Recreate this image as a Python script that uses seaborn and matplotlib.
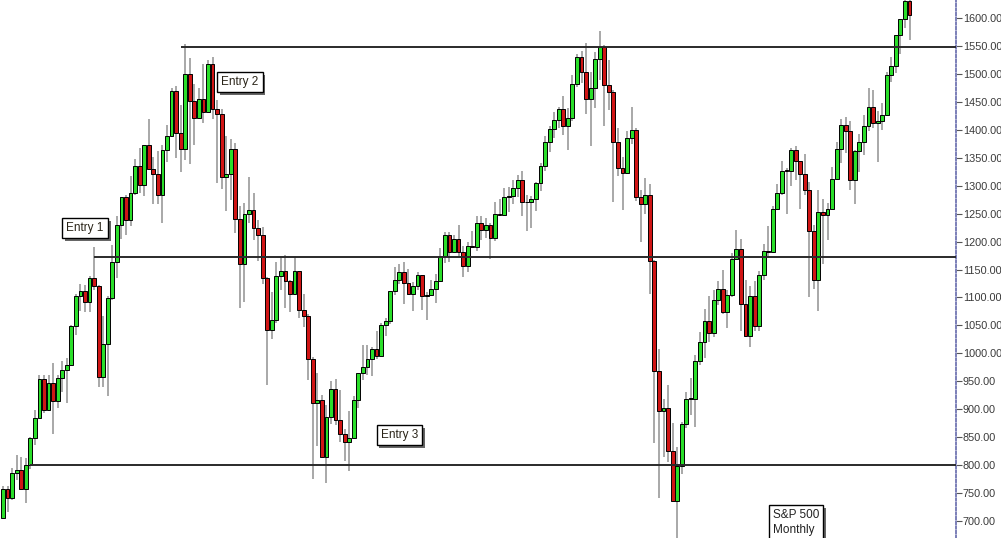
import numpy as np
import pandas as pd
import matplotlib
matplotlib.use("Agg")
import matplotlib.pyplot as plt
import matplotlib.patheffects as pe
import seaborn as sns

# ---------------- data: S&P 500 monthly candles, Nov 1996 .. Jun 2013 ----------------
months = pd.date_range("1996-11-01", periods=200, freq="MS")

opens = [
    705, 757,
    741, 786, 791, 757, 801, 848, 885, 954, 899, 947, 915, 955,
    970, 980, 1049, 1102, 1112, 1091, 1134, 1121, 957, 1017, 1099, 1164,
    1229, 1280, 1238, 1286, 1335, 1302, 1373, 1329, 1320, 1283, 1363, 1389,
    1469, 1394, 1366, 1499, 1452, 1421, 1455, 1431, 1518, 1437, 1429, 1315,
    1320, 1366, 1240, 1160, 1249, 1256, 1224, 1211, 1134, 1041, 1060, 1139,
    1148, 1130, 1107, 1147, 1077, 1067, 990, 912, 916, 815, 886, 936,
    880, 856, 841, 848, 917, 964, 975, 990, 1008, 996, 1051, 1058,
    1112, 1131, 1145, 1126, 1107, 1121, 1141, 1102, 1104, 1115, 1130, 1174,
    1212, 1181, 1204, 1181, 1157, 1192, 1191, 1234, 1220, 1229, 1207, 1249,
    1248, 1280, 1281, 1295, 1311, 1270, 1270, 1277, 1304, 1336, 1378, 1401,
    1418, 1438, 1407, 1421, 1482, 1531, 1503, 1455, 1474, 1527, 1549, 1481,
    1468, 1379, 1331, 1323, 1386, 1400, 1280, 1267, 1283, 1166, 969, 896,
    903, 826, 735, 798, 873, 919, 919, 987, 1021, 1057, 1036, 1096,
    1115, 1074, 1104, 1169, 1187, 1089, 1031, 1102, 1049, 1141, 1183, 1181,
    1258, 1286, 1327, 1326, 1364, 1345, 1321, 1292, 1219, 1131, 1253, 1247,
    1258, 1312, 1366, 1408, 1398, 1310, 1362, 1379, 1407, 1441, 1412, 1416,
    1426, 1498, 1515, 1569, 1598, 1631,
]
highs = [
    762, 762,
    794, 818, 815, 812, 851, 899, 961, 961, 961, 983, 961, 986,
    992, 1051, 1106, 1124, 1122, 1139, 1191, 1122, 1066, 1103, 1193, 1245,
    1280, 1284, 1317, 1347, 1368, 1373, 1420, 1352, 1362, 1373, 1408, 1474,
    1479, 1445, 1553, 1528, 1482, 1475, 1517, 1525, 1531, 1454, 1438, 1389,
    1384, 1377, 1264, 1269, 1316, 1286, 1239, 1226, 1136, 1110, 1164, 1173,
    1176, 1131, 1173, 1147, 1106, 1070, 994, 965, 925, 907, 951, 954,
    935, 865, 896, 924, 965, 1015, 1015, 1012, 1040, 1054, 1063, 1112,
    1155, 1159, 1163, 1151, 1128, 1146, 1141, 1109, 1131, 1142, 1188, 1217,
    1217, 1212, 1229, 1192, 1199, 1219, 1245, 1245, 1243, 1233, 1270, 1276,
    1295, 1297, 1311, 1319, 1326, 1284, 1281, 1307, 1340, 1389, 1407, 1432,
    1441, 1461, 1439, 1498, 1535, 1541, 1556, 1503, 1539, 1576, 1552, 1524,
    1472, 1404, 1352, 1397, 1440, 1404, 1292, 1313, 1303, 1167, 1007, 918,
    944, 876, 833, 878, 930, 956, 997, 1039, 1080, 1102, 1113, 1130,
    1150, 1113, 1180, 1220, 1205, 1132, 1120, 1130, 1148, 1196, 1228, 1263,
    1303, 1344, 1332, 1367, 1371, 1345, 1357, 1307, 1230, 1293, 1277, 1269,
    1333, 1378, 1419, 1422, 1415, 1363, 1392, 1427, 1475, 1471, 1434, 1448,
    1504, 1530, 1570, 1598, 1687, 1654,
]
lows = [
    703, 716,
    737, 773, 756, 733, 793, 836, 884, 893, 898, 855, 903, 931,
    912, 979, 1032, 1076, 1074, 1074, 1114, 940, 939, 923, 1095, 1134,
    1205, 1212, 1228, 1283, 1287, 1281, 1328, 1268, 1268, 1233, 1343, 1387,
    1350, 1325, 1346, 1339, 1373, 1421, 1413, 1431, 1420, 1305, 1294, 1254,
    1275, 1215, 1081, 1091, 1233, 1203, 1165, 1124, 944, 1026, 1054, 1114,
    1081, 1074, 1104, 1063, 1048, 953, 776, 834, 815, 768, 873, 872,
    841, 807, 789, 847, 902, 952, 962, 960, 990, 996, 1031, 1053,
    1105, 1124, 1088, 1105, 1076, 1114, 1078, 1060, 1102, 1090, 1128, 1162,
    1163, 1180, 1173, 1137, 1146, 1188, 1184, 1202, 1206, 1169, 1201, 1245,
    1245, 1253, 1268, 1280, 1245, 1219, 1224, 1254, 1290, 1327, 1360, 1386,
    1403, 1390, 1364, 1416, 1476, 1484, 1428, 1371, 1439, 1489, 1406, 1435,
    1271, 1317, 1257, 1320, 1374, 1272, 1200, 1249, 1107, 840, 741, 815,
    805, 735, 667, 784, 867, 889, 869, 979, 992, 1020, 1029, 1086,
    1071, 1045, 1101, 1171, 1040, 1029, 1011, 1040, 1040, 1132, 1173, 1180,
    1257, 1284, 1249, 1299, 1311, 1258, 1283, 1101, 1115, 1075, 1159, 1202,
    1258, 1312, 1341, 1358, 1292, 1267, 1325, 1354, 1397, 1403, 1343, 1399,
    1426, 1485, 1502, 1536, 1582, 1560,
]
closes = [
    757, 741,
    786, 791, 757, 801, 848, 885, 954, 899, 947, 915, 955, 970,
    980, 1049, 1102, 1112, 1091, 1134, 1121, 957, 1017, 1099, 1164, 1229,
    1280, 1238, 1286, 1335, 1302, 1373, 1329, 1320, 1283, 1363, 1389, 1469,
    1394, 1366, 1499, 1452, 1421, 1455, 1431, 1518, 1437, 1429, 1315, 1320,
    1366, 1240, 1160, 1249, 1256, 1224, 1211, 1134, 1041, 1060, 1139, 1148,
    1130, 1107, 1147, 1077, 1067, 990, 912, 916, 815, 886, 936, 880,
    856, 841, 848, 917, 964, 975, 990, 1008, 996, 1051, 1058, 1112,
    1131, 1145, 1126, 1107, 1121, 1141, 1102, 1104, 1115, 1130, 1174, 1212,
    1181, 1204, 1181, 1157, 1192, 1191, 1234, 1220, 1229, 1207, 1249, 1248,
    1280, 1281, 1295, 1311, 1270, 1270, 1277, 1304, 1336, 1378, 1401, 1418,
    1438, 1407, 1421, 1482, 1531, 1503, 1455, 1474, 1527, 1549, 1481, 1468,
    1379, 1331, 1323, 1386, 1400, 1280, 1267, 1283, 1166, 969, 896, 903,
    826, 735, 798, 873, 919, 919, 987, 1021, 1057, 1036, 1096, 1115,
    1074, 1104, 1169, 1187, 1089, 1031, 1102, 1049, 1141, 1183, 1181, 1258,
    1286, 1327, 1326, 1364, 1345, 1321, 1292, 1219, 1131, 1253, 1247, 1258,
    1312, 1366, 1408, 1398, 1310, 1362, 1379, 1407, 1441, 1412, 1416, 1426,
    1498, 1515, 1569, 1598, 1631, 1606,
]

# horizontal support / resistance levels and the month each one starts from
level_values = [1548, 1172, 801]
level_starts = ["2000-02", "1998-07", "1997-05"]

entry_labels = ["Entry 1", "Entry 2", "Entry 3"]
entry_months = ["1998-05", "2001-03", "2004-02"]
entry_prices = [1224, 1485, 854]

chart_label = "S&P 500\nMonthly"
y_ticks = list(range(700, 1601, 50))

# ---------------- figure ----------------
sns.set_theme(style="white")
plt.rcParams["font.family"] = ["Liberation Sans", "DejaVu Sans"]

df = pd.DataFrame({"month": months, "open": opens, "high": highs,
                   "low": lows, "close": closes})
df["idx"] = np.arange(len(df))
df["up"] = df["close"] >= df["open"]

fig = plt.figure(figsize=(10.01, 5.38), dpi=100)
ax = fig.add_axes([0, 0, 956 / 1001, 1])

GREEN = "#2ade2a"
RED = "#d01515"

# wicks
ax.vlines(df["idx"], df["low"], df["high"], color="#a8a8a8", lw=1.4, zorder=2)
# bodies
body_bottom = np.minimum(df["open"], df["close"])
body_h = np.abs(df["close"] - df["open"]).clip(lower=1.5)
ax.bar(df["idx"], body_h, bottom=body_bottom, width=0.85,
       color=np.where(df["up"], GREEN, RED), edgecolor="black",
       linewidth=0.7, zorder=3)

# level lines
month_index = {m.strftime("%Y-%m"): i for i, m in enumerate(months)}
xmin, xmax = -0.66, 209.2
for val, start in zip(level_values, level_starts):
    ax.hlines(val, month_index[start], xmax, color="#2a2a2a", lw=1.4, zorder=4)

# entry labels with drop shadow
shadow = [pe.withSimplePatchShadow(offset=(2, -2), shadow_rgbFace="#555555", alpha=0.9)]
for lab, m, p in zip(entry_labels, entry_months, entry_prices):
    t = ax.text(month_index[m], p, lab, ha="center", va="center", fontsize=8.5,
                color="#2a2418", zorder=6,
                bbox=dict(boxstyle="square,pad=0.35", fc="white", ec="black", lw=1.0))
    t.get_bbox_patch().set_path_effects(shadow)

t = ax.text(month_index["2010-12"], 722, chart_label, ha="left", va="top",
            fontsize=8.5, color="#222222", zorder=6, linespacing=1.4,
            bbox=dict(boxstyle="square,pad=0.3", fc="white", ec="black", lw=1.0))
t.get_bbox_patch().set_path_effects(shadow)

ax.set_xlim(xmin, xmax)
ax.set_ylim(669.6, 1632.2)

ax.yaxis.tick_right()
ax.set_yticks(y_ticks)
ax.set_yticklabels([f"{v:.2f}" for v in y_ticks])
ax.tick_params(axis="y", which="both", right=True, length=4, width=0.8,
               color="#555555", labelsize=7.8, labelcolor="#3a3a3a", pad=1)
ax.set_xticks([])
for s in ["top", "left", "bottom"]:
    ax.spines[s].set_visible(False)
ax.spines["right"].set_color("#7b7fb8")
ax.spines["right"].set_linestyle((0, (1.2, 1.2)))
ax.spines["right"].set_linewidth(1.4)
ax.set_facecolor("white")
fig.patch.set_facecolor("white")

fig.savefig("out.png", dpi=100)
